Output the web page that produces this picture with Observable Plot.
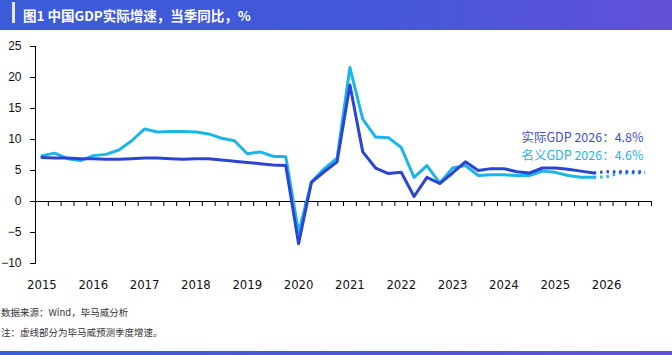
<!DOCTYPE html>
<html><head><meta charset="utf-8">
<script src="https://cdn.jsdelivr.net/npm/d3@7"></script>
<script src="https://cdn.jsdelivr.net/npm/@observablehq/plot@0.6"></script>
<style>
body{margin:0;background:#fff;width:672px;height:355px;overflow:hidden;position:relative;font-family:"Noto Sans CJK SC","Noto Sans",sans-serif}
#title{height:30px;background:linear-gradient(90deg,#3b5cd9 0%,#4458d9 55%,#6150d8 100%);position:relative}
#title .bar{position:absolute;left:12px;top:2px;width:3px;height:21px;background:#fff;opacity:.85}
#title .t{position:absolute;left:23px;top:0;line-height:30px;color:#fff;font-weight:bold;font-size:13.5px}
#chart svg{display:block}
.note{position:absolute;left:1px;font-size:9.5px;color:#333;line-height:14px;white-space:nowrap}
#bottom{position:absolute;left:0;top:351px;width:672px;height:4px;background:linear-gradient(90deg,#3b5cd9,#6150d8)}
</style></head>
<body>
<div id="title"><div class="bar"></div><div class="t" id="titleText"></div></div>
<div id="chart"></div>
<div class="note" id="n1" style="top:305px"></div>
<div class="note" id="n2" style="top:325px"></div>
<div id="bottom"></div>
<script>
const titleText = "图1 中国GDP实际增速，当季同比，%";
const sourceText = "数据来源：Wind，毕马威分析";
const noteText = "注：虚线部分为毕马威预测季度增速。";
const years = [2015,2016,2017,2018,2019,2020,2021,2022,2023,2024,2025,2026];
const forecastYear = 2026;
const yTicks = [-10,-5,0,5,10,15,20,25];
// quarterly y/y growth, %, 2015Q1 .. 2026Q4
const realGDP = [
  7.1, 7.0, 7.0, 6.9,
  6.9, 6.8, 6.8, 6.9,
  7.0, 7.0, 6.9, 6.8,
  6.9, 6.9, 6.7, 6.5,
  6.3, 6.1, 5.9, 5.8,
  -6.8, 3.1, 4.8, 6.4,
  18.8, 8.0, 5.4, 4.5,
  4.7, 0.8, 3.9, 2.9,
  4.6, 6.4, 5.0, 5.3,
  5.3, 4.8, 4.6, 5.4,
  5.4, 5.2, 4.9, 4.6,
  4.8, 4.8, 4.8, 4.8
];
const nominalGDP = [
  7.4, 7.8, 6.9, 6.6,
  7.4, 7.6, 8.3, 9.8,
  11.7, 11.2, 11.3, 11.3,
  11.2, 10.9, 10.2, 9.8,
  7.7, 8.0, 7.3, 7.2,
  -5.0, 3.1, 5.3, 7.0,
  21.6, 13.3, 10.4, 10.3,
  8.7, 3.9, 5.8, 2.95,
  5.4, 5.8, 4.2, 4.3,
  4.3, 4.2, 4.2, 4.9,
  4.7, 4.2, 3.9, 3.9,
  4.0, 4.6, 4.6, 4.6
];
const annotations = ["实际GDP 2026：4.8%", "名义GDP 2026：4.6%"];

const darkBlue = "#2b45d2", cyan = "#1db4ea";
document.getElementById("titleText").textContent = titleText;
document.getElementById("n1").textContent = sourceText;
document.getElementById("n2").textContent = noteText;

const rows = realGDP.map((v, i) => ({q: i, year: years[Math.floor(i / 4)], real: v, nominal: nominalGDP[i]}));
const n = rows.length;
const firstForecast = rows.findIndex(d => d.year >= forecastYear);
const actual = rows.filter(d => d.q < firstForecast);
const forecast = rows.filter(d => d.q >= firstForecast - 1);
const edges = d3.range(n + 1).map(i => i - 0.5);
const yearTicks = years.map((y, i) => i * 4);

const chart = Plot.plot({
  width: 672, height: 265,
  marginLeft: 35, marginRight: 21, marginTop: 16, marginBottom: 32,
  x: {domain: [-0.5, n - 0.5]},
  y: {domain: [-10, 25]},
  style: {fontFamily: "'Liberation Sans', Arial, sans-serif", background: "transparent"},
  marks: [
    Plot.frame({anchor: "left", stroke: "#000"}),
    Plot.axisY({ticks: yTicks, tickSize: 5, tickPadding: 9, fontSize: 12, fill: "#111", stroke: "#000", label: null}),
    Plot.axisX({ticks: yearTicks, tickFormat: i => String(years[i / 4]), tickSize: 0, tickPadding: 16, fontSize: 13,
      fontFamily: "'Liberation Sans Narrow', 'DejaVu Sans Condensed', Arial, sans-serif", fill: "#111", label: null}),
    Plot.ruleY([0], {stroke: "#000"}),
    Plot.ruleX(edges, {x: d => d, y1: () => 0, y2: () => 0, insetBottom: -5, stroke: "#000"}),
    Plot.line(actual, {x: "q", y: "nominal", stroke: cyan, strokeWidth: 3}),
    Plot.line(forecast, {x: "q", y: "nominal", stroke: cyan, strokeWidth: 3, strokeDasharray: "2.5 3.9", strokeLinecap: "butt"}),
    Plot.line(actual, {x: "q", y: "real", stroke: darkBlue, strokeWidth: 3}),
    Plot.line(forecast, {x: "q", y: "real", stroke: darkBlue, strokeWidth: 3, strokeDasharray: "2.5 3.9", strokeLinecap: "butt"}),
    Plot.text([annotations[0]], {frameAnchor: "top-right", dx: -8, dy: 87, textAnchor: "end", fill: "#3e50c8", fontSize: 12.5, fontFamily: "'Noto Sans CJK SC', sans-serif"}),
    Plot.text([annotations[1]], {frameAnchor: "top-right", dx: -8, dy: 105, textAnchor: "end", fill: "#27b2e8", fontSize: 12.5, fontFamily: "'Noto Sans CJK SC', sans-serif"})
  ]
});
document.getElementById("chart").appendChild(chart);
</script>
</body></html>
